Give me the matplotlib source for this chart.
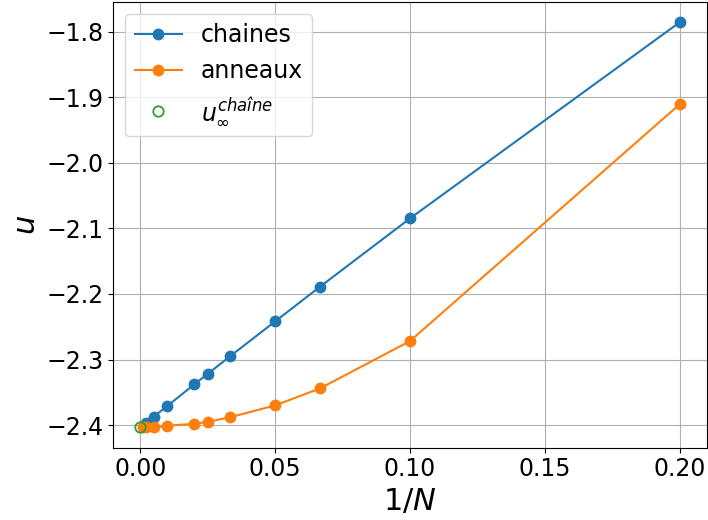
import matplotlib

matplotlib.use("Agg")
import matplotlib.pyplot as plt
import numpy as np

# x = 1/N
N_CHAINES = [5, 10, 15, 20, 30, 40, 50, 100, 200, 500]
U_CHAINES = [-1.786, -2.085, -2.189, -2.242, -2.295, -2.322, -2.338, -2.371, -2.387, -2.397]

N_ANNEAUX = [5, 10, 15, 20, 30, 40, 50, 100, 200, 500, 1000]
U_ANNEAUX = [-1.911, -2.272, -2.344, -2.370, -2.388, -2.395, -2.398, -2.401, -2.403, -2.4035, -2.4036]

U_INF_CHAINE = -2.4036

x_ch = 1.0 / np.array(N_CHAINES)
x_an = 1.0 / np.array(N_ANNEAUX)

fig, ax = plt.subplots(figsize=(7.08, 5.2), dpi=100)
ax.plot(x_ch, U_CHAINES, "o-", color="#1f77b4", ms=7.5, label="chaines")
ax.plot(x_an, U_ANNEAUX, "o-", color="#ff7f0e", ms=7.5, label="anneaux")
ax.plot([0.0], [U_INF_CHAINE], "o", ms=7.5, mfc="none", mec="#2ca02c", mew=1.3,
        label=r"$u_\infty^{chaîne}$")

ax.set_xticks([0.0, 0.05, 0.10, 0.15, 0.20])
ax.set_xlabel(r"$1/N$", fontsize=22)
ax.set_ylabel(r"$u$", fontsize=22)
ax.tick_params(labelsize=17)
ax.grid(True)
ax.legend(loc="upper left", fontsize=17)

fig.subplots_adjust(left=0.16, right=0.998, bottom=0.139, top=0.996)
fig.savefig("out.png", dpi=100)
